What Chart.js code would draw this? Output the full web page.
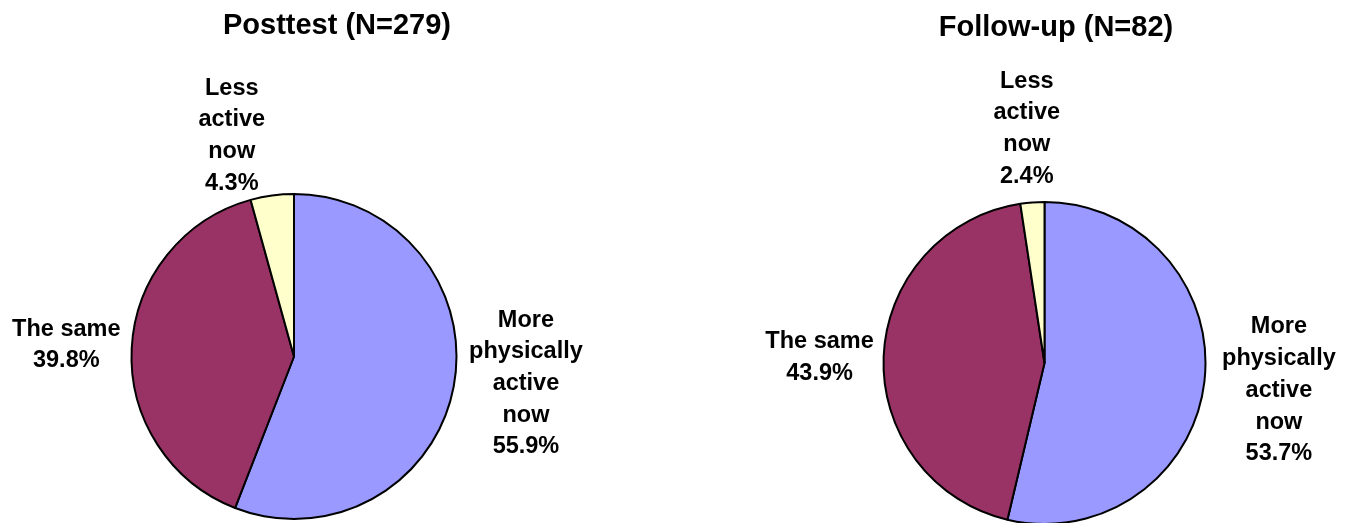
<!DOCTYPE html>
<html lang="en">

<head>
    <title>Physical activity now</title>
    <meta charset="utf-8">
    <script src="https://cdn.jsdelivr.net/npm/chart.js"></script>
    <style>
        body { margin: 0; background: #fff; overflow: hidden; }
        .pieBox { position: absolute; top: 0; width: 673px; }
        #posttestBox { left: 0; height: 523px; }
        #followupBox { left: 673px; height: 530px; }
    </style>
</head>

<body>
    <div id="posttestBox" class="pieBox"><canvas id="posttestChart"></canvas></div>
    <div id="followupBox" class="pieBox"><canvas id="followupChart"></canvas></div>

    <script>
        // slice names, wrapped the way they are printed beside the pies
        const categories = [['More', 'physically', 'active', 'now'], ['The same'], ['Less', 'active', 'now']];
        const posttestValues = [55.9, 39.8, 4.3];
        const followupValues = [53.7, 43.9, 2.4];
        const posttestTitle = 'Posttest (N=279)';
        const followupTitle = 'Follow-up (N=82)';
        const sliceColors = ['#9999FF', '#993366', '#FFFFCC'];

        const fontFamily = '"Liberation Sans", Arial, Helvetica, sans-serif';

        // draws the heading and the name + percent next to each slice
        const pieText = {
            id: 'pieText',
            afterDatasetsDraw(chart, args, opts) {
                const ctx = chart.ctx;
                const arcs = chart.getDatasetMeta(0).data;
                const values = chart.data.datasets[0].data;
                ctx.save();
                ctx.fillStyle = '#000';
                ctx.textAlign = 'center';

                ctx.font = 'bold 29px ' + fontFamily;
                ctx.textBaseline = 'alphabetic';
                ctx.fillText(opts.title, opts.titleX, opts.titleY);

                ctx.font = 'bold 23.5px ' + fontFamily;
                ctx.textBaseline = 'middle';
                arcs.forEach((arc, i) => {
                    const mid = (arc.startAngle + arc.endAngle) / 2 + opts.nudge[i] * Math.PI / 180;
                    const d = arc.outerRadius + opts.gap[i];
                    const x = arc.x + Math.cos(mid) * d;
                    const y = arc.y + Math.sin(mid) * d;
                    const lines = [].concat(chart.data.labels[i], values[i].toFixed(1) + '%');
                    const top = y - (lines.length - 1) * opts.lineHeight / 2;
                    lines.forEach((line, k) => ctx.fillText(line, x, top + k * opts.lineHeight));
                });
                ctx.restore();
            }
        };

        function makePie(id, values, padding, text) {
            return new Chart(document.getElementById(id), {
                type: 'pie',
                data: {
                    labels: categories,
                    datasets: [{
                        data: values,
                        backgroundColor: sliceColors,
                        borderColor: '#000',
                        borderWidth: 2
                    }]
                },
                options: {
                    responsive: true,
                    maintainAspectRatio: false,
                    animation: false,
                    events: [],
                    layout: { padding: padding },
                    plugins: {
                        legend: { display: false },
                        tooltip: { enabled: false },
                        title: { display: false },
                        pieText: text
                    }
                },
                plugins: [pieText]
            });
        }

        makePie('posttestChart', posttestValues,
            { left: 130.5, right: 215.5, top: 193, bottom: 3 },
            { title: posttestTitle, titleX: 337, titleY: 34, lineHeight: 31.7,
              gap: [71, 65.5, 67], nudge: [-4, 0, -8] });

        makePie('followupChart', followupValues,
            { left: 209.5, right: 139.5, top: 201, bottom: 5 },
            { title: followupTitle, titleX: 383, titleY: 36, lineHeight: 31.7,
              gap: [75, 64, 74], nudge: [0, -1, 0] });
    </script>
</body>

</html>
